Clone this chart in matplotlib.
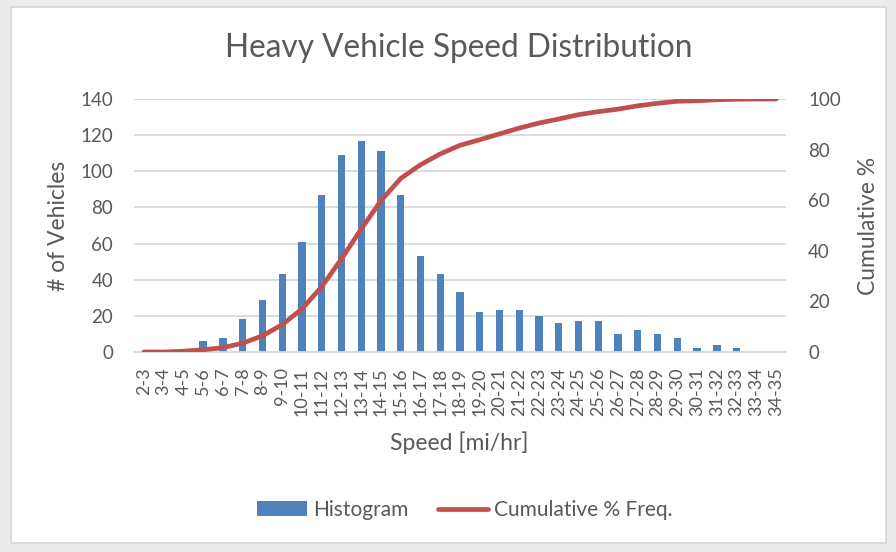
import matplotlib
matplotlib.use("Agg")
import matplotlib.pyplot as plt
from matplotlib.patches import Rectangle

plt.rcParams['font.family'] = ['Lato', 'DejaVu Sans']

categories = ["2-3", "3-4", "4-5", "5-6", "6-7", "7-8", "8-9", "9-10", "10-11", "11-12",
              "12-13", "13-14", "14-15", "15-16", "16-17", "17-18", "18-19", "19-20",
              "20-21", "21-22", "22-23", "23-24", "24-25", "25-26", "26-27", "27-28",
              "28-29", "29-30", "30-31", "31-32", "32-33", "33-34", "34-35"]
counts = [0, 0, 0, 6, 8, 18, 29, 43, 61, 87, 109, 117, 111, 87, 53, 43, 33, 22,
          23, 23, 20, 16, 17, 17, 10, 12, 10, 8, 2, 4, 2, 0, 0]
cumulative = [0, 0, 0.3, 0.9, 1.7, 3.5, 6.4, 10.8, 17.0, 25.8, 36.8, 48.6, 59.8,
              68.6, 74.0, 78.3, 81.7, 83.9, 86.2, 88.5, 90.5, 92.1, 93.8, 95.0,
              96.0, 97.3, 98.3, 99.1, 99.3, 99.7, 99.9, 100, 100]
y_left_ticks = [0, 20, 40, 60, 80, 100, 120, 140]
y_right_ticks = [0, 20, 40, 60, 80, 100]

TXT = '#595959'
GRID = '#D9D9D9'
BLUE = '#4F81BD'
RED = '#C0504D'

W, H = 896, 552
fig = plt.figure(figsize=(W / 100, H / 100), dpi=100)
fig.patch.set_facecolor('#EBEBEB')
fig.patches.append(Rectangle((11 / W, 1 - 543 / H), (886 - 11) / W, (543 - 7) / H,
                             transform=fig.transFigure, facecolor='white',
                             edgecolor='#D6D6D6', linewidth=1.2, zorder=-5))

left, right, top, bottom = 134, 786, 99, 352
ax = fig.add_axes([left / W, 1 - bottom / H, (right - left) / W, (bottom - top) / H])
ax.set_facecolor('none')
x = list(range(len(categories)))
ax.bar(x, counts, width=0.37, color=BLUE, label='Histogram', zorder=2)
ax.set_xlim(-0.5, len(categories) - 0.5)
ax.set_ylim(0, 140)
ax.set_yticks(y_left_ticks)
ax.set_axisbelow(True)
ax.yaxis.grid(True, color=GRID, linewidth=1.3)
ax.set_xticks(x)
ax.set_xticklabels(categories, rotation=90, fontsize=13, color=TXT)
ax.tick_params(axis='x', length=0, pad=11)
ax.tick_params(axis='y', length=0, pad=15, labelsize=13.5, labelcolor=TXT)
for s in ['top', 'left', 'right']:
    ax.spines[s].set_visible(False)
ax.spines['bottom'].set_color(GRID)
ax.spines['bottom'].set_linewidth(1.3)

ax2 = ax.twinx()
ax2.plot(x, cumulative, color=RED, linewidth=3.4, solid_capstyle='round',
         label='Cumulative % Freq.', zorder=3)
ax2.set_ylim(0, 100)
ax2.set_yticks(y_right_ticks)
ax2.tick_params(axis='y', length=0, pad=16, labelsize=13.5, labelcolor=TXT)
for s in ['top', 'left', 'right', 'bottom']:
    ax2.spines[s].set_visible(False)

fig.text(459 / W, 1 - 48 / H, 'Heavy Vehicle Speed Distribution', ha='center',
         va='center', fontsize=22.8, color=TXT)
fig.text(459 / W, 1 - 443 / H, 'Speed [mi/hr]', ha='center', va='center',
         fontsize=16.5, color=TXT)
fig.text(58 / W, 1 - 226 / H, '# of Vehicles', ha='center', va='center',
         rotation=90, fontsize=16.5, color=TXT)
fig.text(868 / W, 1 - 226 / H, 'Cumulative %', ha='center', va='center',
         rotation=90, fontsize=16.5, color=TXT)

h1, l1 = ax.get_legend_handles_labels()
h2, l2 = ax2.get_legend_handles_labels()
leg = fig.legend(h1 + h2, l1 + l2, loc='center', bbox_to_anchor=(465 / W, 1 - 510 / H),
                 ncol=2, frameon=False, fontsize=15, handlelength=2.4,
                 handletextpad=0.3, columnspacing=1.4)
for t in leg.get_texts():
    t.set_color(TXT)

fig.savefig('out.png', dpi=100, facecolor=fig.get_facecolor())
